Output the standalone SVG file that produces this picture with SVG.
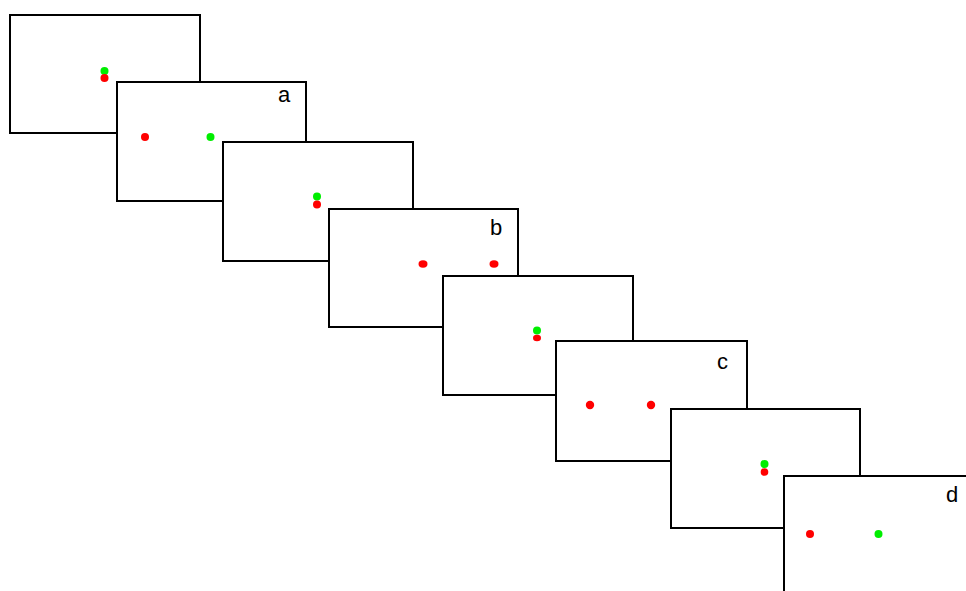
<svg xmlns="http://www.w3.org/2000/svg" width="966" height="591" viewBox="0 0 966 591">
<style>
.f{fill:#fff;stroke:#000;stroke-width:2}
.r{fill:#ff0000}
.g{fill:#00ee00}
.t{font-family:"Liberation Sans",Arial,sans-serif;font-size:22px;fill:#000}
</style>
<rect width="966" height="591" fill="#fff"/>
<g id="frame1">
<rect class="f" x="10" y="15" width="190" height="118"/>
<circle class="g" cx="104.5" cy="71" r="4"/>
<circle class="r" cx="104.5" cy="78" r="4"/>
</g>
<g id="frame-a">
<rect class="f" x="117" y="82" width="189" height="119"/>
<text class="t" x="278" y="102">a</text>
<circle class="r" cx="145" cy="137" r="4"/>
<circle class="g" cx="210.5" cy="137" r="4"/>
</g>
<g id="frame3">
<rect class="f" x="223" y="142" width="190" height="119"/>
<circle class="g" cx="317" cy="196.5" r="4"/>
<circle class="r" cx="317" cy="204.5" r="4"/>
</g>
<g id="frame-b">
<rect class="f" x="329" y="209" width="189" height="118"/>
<text class="t" x="490" y="235">b</text>
<ellipse class="r" cx="423" cy="264" rx="4.5" ry="3.7"/>
<ellipse class="r" cx="494" cy="264" rx="4.5" ry="3.7"/>
</g>
<g id="frame5">
<rect class="f" x="443" y="276" width="190" height="119"/>
<circle class="g" cx="537" cy="330.5" r="4"/>
<ellipse class="r" cx="537" cy="338" rx="4" ry="3.2"/>
</g>
<g id="frame-c">
<rect class="f" x="556" y="341" width="191" height="120"/>
<text class="t" x="717" y="369">c</text>
<circle class="r" cx="590" cy="405" r="4.2"/>
<circle class="r" cx="651" cy="405" r="4.2"/>
</g>
<g id="frame7">
<rect class="f" x="671" y="409" width="189" height="119"/>
<circle class="g" cx="764.5" cy="464" r="4"/>
<circle class="r" cx="764.5" cy="472" r="3.8"/>
</g>
<g id="frame-d">
<rect class="f" x="784" y="476" width="192" height="125"/>
<text class="t" x="946" y="502">d</text>
<circle class="r" cx="810" cy="534" r="4"/>
<circle class="g" cx="878.5" cy="534" r="4"/>
</g>
<g id="connectors"></g>
</svg>
